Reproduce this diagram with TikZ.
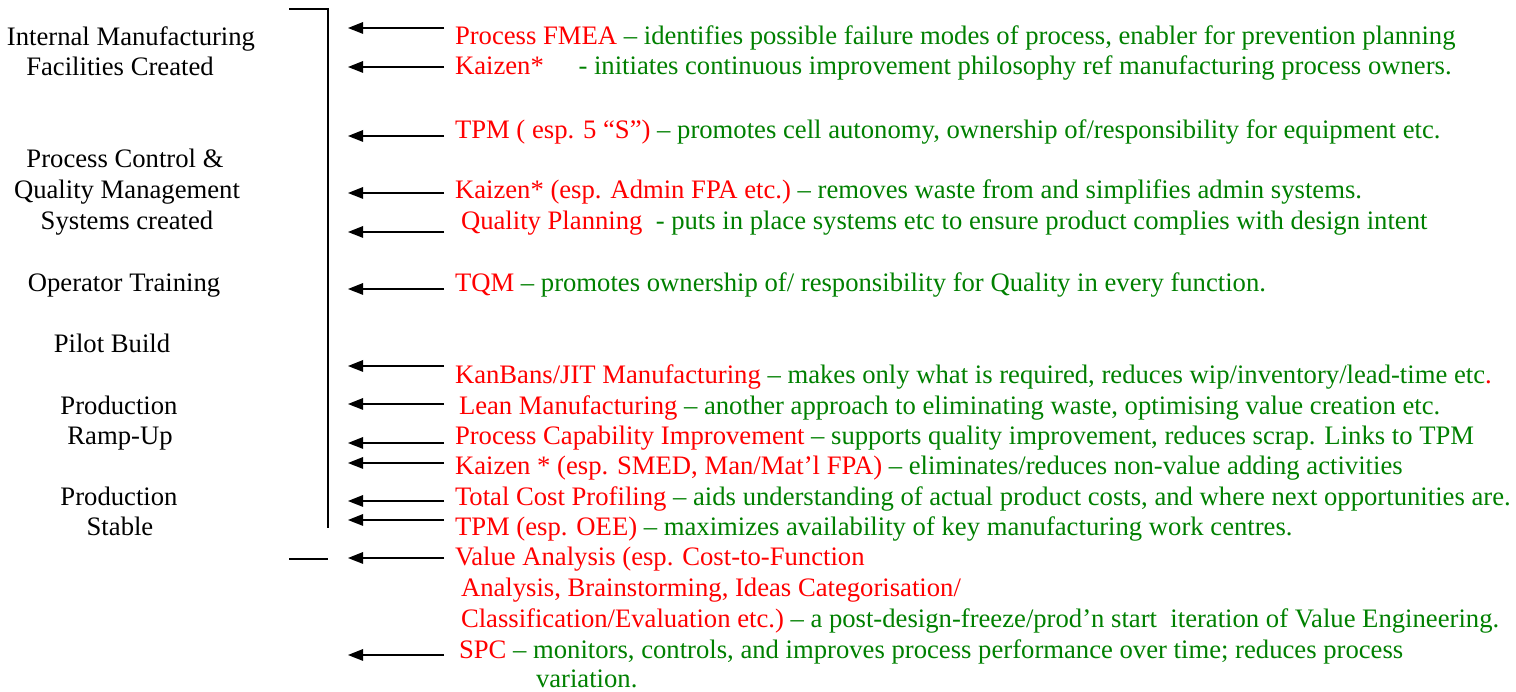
\documentclass[tikz,border=0pt]{standalone}
\usepackage{fontspec}
\setmainfont{Liberation Serif}
\usetikzlibrary{arrows.meta}
\definecolor{tred}{RGB}{255,0,0}
\definecolor{tgreen}{RGB}{0,128,0}
\newcommand{\R}[1]{\textcolor{tred}{#1}}
\newcommand{\G}[1]{\textcolor{tgreen}{#1}}
\tikzset{
  txt/.style={inner sep=0pt, outer sep=0pt, anchor=base west, font=\fontsize{12}{14}\selectfont},
  lbl/.style={inner sep=0pt, outer sep=0pt, anchor=base, font=\fontsize{12}{14}\selectfont},
  arr/.style={line width=0.7pt, -{Triangle[length=6.8pt,width=5.2pt]}},
  brk/.style={line width=0.9pt},
}
\begin{document}
\begin{tikzpicture}[x=0.45pt,y=-0.45pt]
\useasboundingbox (0,0) rectangle (1516,692);
% left stage labels
\node[lbl] (l1) at (131,46) {Internal Manufacturing};
\node[lbl] (l2) at (120,76) {Facilities Created};
\node[lbl] (l3) at (125,168) {Process Control \&};
\node[lbl] (l4) at (127,199) {Quality Management};
\node[lbl] (l5) at (127,230) {Systems created};
\node[lbl] (l6) at (124,292) {Operator Training};
\node[lbl] (l7) at (112,353) {Pilot Build};
\node[lbl] (l8) at (119,415) {Production};
\node[lbl] (l9) at (120,445) {Ramp-Up};
\node[lbl] (l10) at (119,506) {Production};
\node[lbl] (l11) at (120,536) {Stable};
% bracket
\coordinate (bt0) at (289,9);
\coordinate (bt1) at (328,9);
\coordinate (bb) at (328,528);
\coordinate (bl0) at (289,559);
\coordinate (bl1) at (328,559);
\draw[brk] (bt0) -- (bt1) -- (bb);
\draw[brk] (bl0) -- (bl1);
% arrows
\foreach \i/\y in {1/28,2/67,3/136,4/193,5/232,6/289,7/366,8/404,9/443,10/463,11/501,12/520,13/558,14/655}{
  \coordinate (a\i) at (444,\y);
  \coordinate (b\i) at (348,\y);
  \draw[arr] (a\i) -- (b\i);
}
% right texts
\node[txt] (r1) at (455,45) {\R{Process FMEA}\G{\ – identifies possible failure modes of process, enabler for prevention planning}};
\node[txt] (r2) at (455,75) {\R{Kaizen*}\G{\hspace{1.3em}- initiates continuous improvement philosophy ref manufacturing process owners.}};
\node[txt] (r3) at (455,139) {\R{TPM ( esp. 5 “S”)}\G{\ – promotes cell autonomy, ownership of/responsibility for equipment etc.}};
\node[txt] (r4) at (455,199) {\R{Kaizen* (esp. Admin FPA etc.)}\G{\ – removes waste from and simplifies admin systems.}};
\node[txt] (r5) at (461,230) {\R{Quality Planning}\G{\ \ - puts in place systems etc to ensure product complies with design intent}};
\node[txt] (r6) at (455,292) {\R{TQM}\G{\ – promotes ownership of/ responsibility for Quality in every function.}};
\node[txt] (r7) at (455,384) {\R{KanBans/JIT Manufacturing}\G{\ – makes only what is required, reduces wip/inventory/lead-time etc}\R{.}};
\node[txt] (r8) at (459,415) {\R{Lean Manufacturing}\G{\ – another approach to eliminating waste, optimising value creation etc.}};
\node[txt] (r9) at (455,445) {\R{Process Capability Improvement}\G{\ – supports quality improvement, reduces scrap. Links to TPM}};
\node[txt] (r10) at (455,475) {\R{Kaizen * (esp. SMED, Man/Mat’l FPA)}\G{\ – eliminates/reduces non-value adding activities}};
\node[txt] (r11) at (455,506) {\R{Total Cost Profiling}\G{\ – aids understanding of actual product costs, and where next opportunities are.}};
\node[txt] (r12) at (455,536) {\R{TPM (esp. OEE)}\G{\ – maximizes availability of key manufacturing work centres.}};
\node[txt] (r13) at (455,566) {\R{Value Analysis (esp. Cost-to-Function}};
\node[txt] (r14) at (461,597) {\R{Analysis, Brainstorming, Ideas Categorisation/}};
\node[txt] (r15) at (461,628) {\R{Classification/Evaluation etc.)}\G{\ – a post-design-freeze/prod’n start\ \ iteration of Value Engineering.}};
\node[txt] (r16) at (459,659) {\R{SPC}\G{\ – monitors, controls, and improves process performance over time; reduces process}};
\node[txt] (r17) at (536,688) {\G{variation.}};
\end{tikzpicture}
\end{document}
